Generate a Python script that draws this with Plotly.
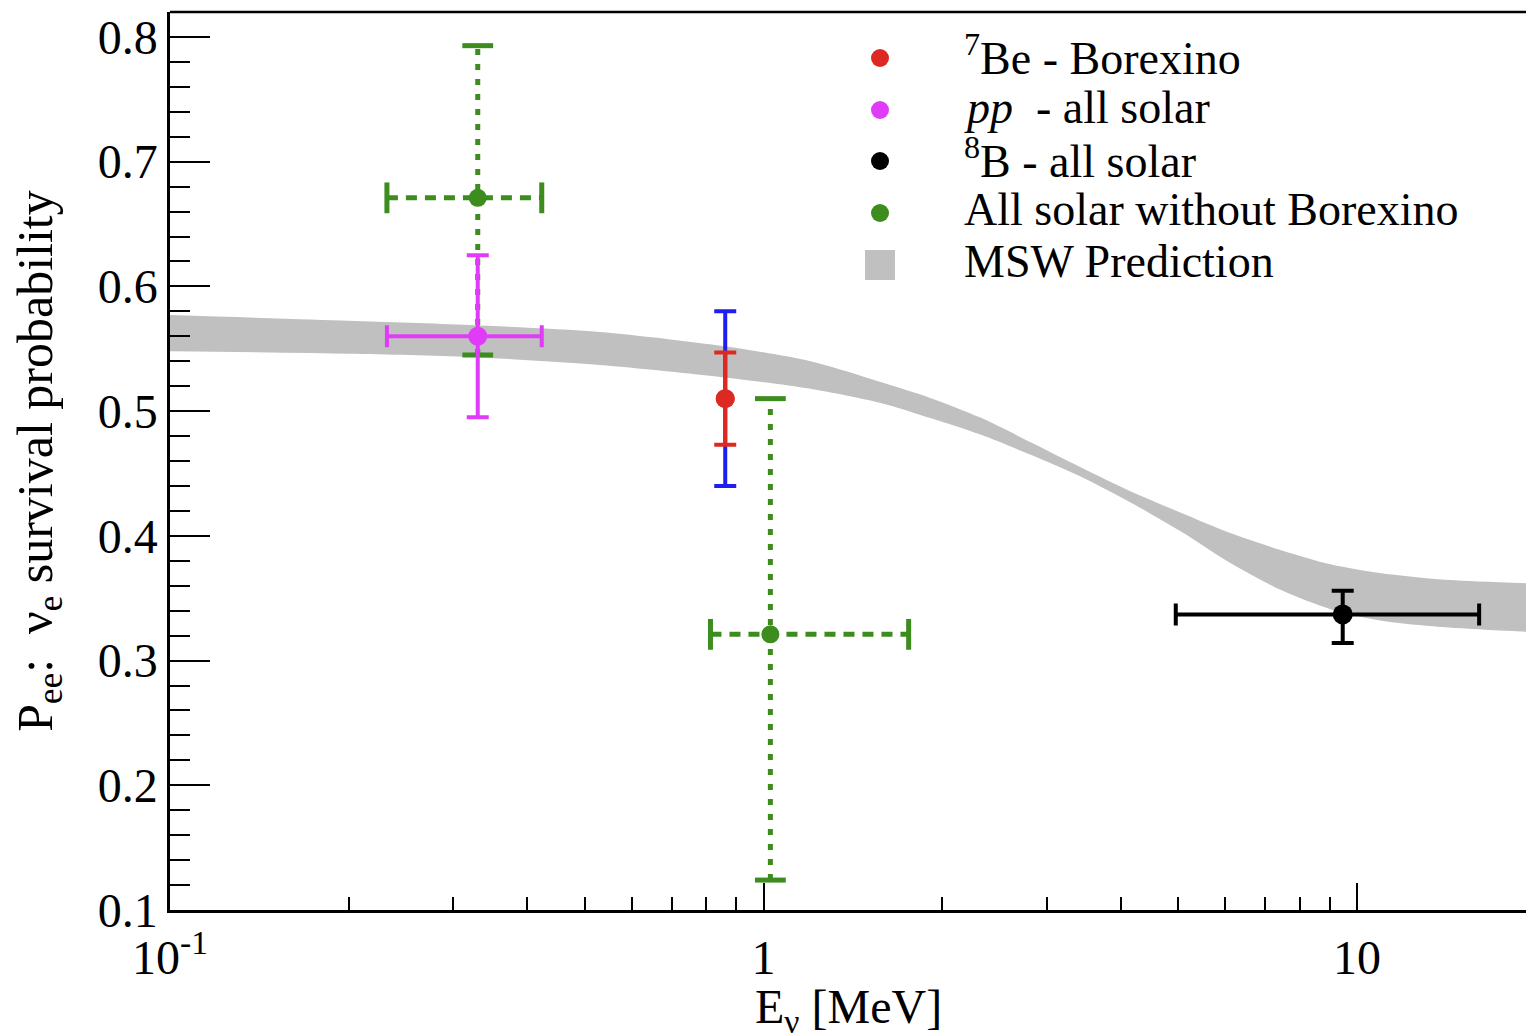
import plotly.graph_objects as go

# ---------------- data ----------------
# MSW prediction band: energy [MeV], lower and upper survival probability
band_E = [0.1, 0.2, 0.32, 0.53, 0.86, 1.2, 1.575, 1.91, 2.32, 2.82, 3.43, 4.16,
          5.05, 6.13, 7.45, 9.05, 11.0, 14.3, 19.4]
band_lo = [0.548, 0.546, 0.5434, 0.537, 0.527, 0.518, 0.5066, 0.4945, 0.4812, 0.465,
           0.4473, 0.4265, 0.4035, 0.378, 0.3565, 0.341, 0.332, 0.3265, 0.323]
band_hi = [0.577, 0.5725, 0.5691, 0.5635, 0.552, 0.540, 0.5234, 0.5106, 0.4948, 0.475,
           0.4547, 0.4355, 0.4185, 0.402, 0.3885, 0.377, 0.370, 0.3645, 0.362]

# pp - all solar
pp_E = [0.33]
pp_E_minus = [0.098]
pp_E_plus = [0.093]
pp_P = [0.56]
pp_P_plus = [0.065]
pp_P_minus = [0.065]

# 7Be - Borexino
be7_E = [0.862]
be7_P = [0.51]
be7_stat = [0.037]
be7_total = [0.07]

# 8B - all solar
b8_E = [9.46]
b8_E_minus = [4.51]
b8_E_plus = [6.6]
b8_P = [0.337]
b8_P_plus = [0.019]
b8_P_minus = [0.023]

# All solar without Borexino
g_E = [0.33, 1.027]
g_E_minus = [0.098, 0.213]
g_E_plus = [0.093, 0.729]
g_P = [0.671, 0.321]
g_P_plus = [0.122, 0.189]
g_P_minus = [0.126, 0.197]

# legend labels
legend_labels = ["<sup>7</sup>Be - Borexino", "<i>pp</i>  - all solar",
                 "<sup>8</sup>B - all solar", "All solar without Borexino",
                 "MSW Prediction"]

# axis titles and tick labels
x_title = "E<sub>ν</sub> [MeV]"
y_title = "P<sub>ee</sub>:  ν<sub>e</sub> survival probability"
x_tickvals = [0.1, 1, 10]
x_ticktext = ["10<sup>-1</sup>", "1", "10"]
y_tickvals = [0.1, 0.2, 0.3, 0.4, 0.5, 0.6, 0.7, 0.8]

# ---------------- styles ----------------
GREEN = "#3c8c1e"
MAGENTA = "#e03cf8"
RED = "#dc2a22"
BLUE = "#1e1ef0"
GREY = "#c0c0c0"
FONT = "Liberation Serif"

fig = go.Figure()

# MSW band
fig.add_trace(go.Scatter(x=band_E, y=band_lo, mode="lines",
                         line=dict(width=0, color=GREY, shape="spline", smoothing=0.8),
                         showlegend=False, hoverinfo="skip"))
fig.add_trace(go.Scatter(x=band_E, y=band_hi, mode="lines", fill="tonexty",
                         fillcolor=GREY,
                         line=dict(width=0, color=GREY, shape="spline", smoothing=0.8),
                         showlegend=False, hoverinfo="skip"))

# green dotted / dashed error bars built from the data
gv_x, gv_y, gh_x, gh_y = [], [], [], []
capv_x, capv_y, caph_x, caph_y = [], [], [], []
for e, em, ep, p, pp_, pm in zip(g_E, g_E_minus, g_E_plus, g_P, g_P_plus, g_P_minus):
    gv_x += [e, e, None]
    gv_y += [p - pm, p + pp_, None]
    gh_x += [e - em, e + ep, None]
    gh_y += [p, p, None]
    capv_x += [e, e]
    capv_y += [p - pm, p + pp_]
    caph_x += [e - em, e + ep]
    caph_y += [p, p]

fig.add_trace(go.Scatter(x=gv_x, y=gv_y, mode="lines",
                         line=dict(color=GREEN, width=5, dash="6px,9px"),
                         showlegend=False, hoverinfo="skip"))
fig.add_trace(go.Scatter(x=gh_x, y=gh_y, mode="lines",
                         line=dict(color=GREEN, width=5, dash="11px,8px"),
                         showlegend=False, hoverinfo="skip"))
fig.add_trace(go.Scatter(x=capv_x, y=capv_y, mode="markers",
                         marker=dict(symbol="line-ew", size=22,
                                     line=dict(color=GREEN, width=5)),
                         showlegend=False, hoverinfo="skip"))
fig.add_trace(go.Scatter(x=caph_x, y=caph_y, mode="markers",
                         marker=dict(symbol="line-ns", size=22,
                                     line=dict(color=GREEN, width=5)),
                         showlegend=False, hoverinfo="skip"))
fig.add_trace(go.Scatter(x=g_E, y=g_P, mode="markers", name=legend_labels[3],
                         marker=dict(color=GREEN, size=18), showlegend=False))

# pp - all solar
fig.add_trace(go.Scatter(
    x=pp_E, y=pp_P, mode="markers", name=legend_labels[1],
    marker=dict(color=MAGENTA, size=19), showlegend=False,
    error_x=dict(type="data", symmetric=False, array=pp_E_plus, arrayminus=pp_E_minus,
                 color=MAGENTA, thickness=4, width=11),
    error_y=dict(type="data", symmetric=False, array=pp_P_plus, arrayminus=pp_P_minus,
                 color=MAGENTA, thickness=4, width=11)))

# 7Be total (blue) and stat (red)
fig.add_trace(go.Scatter(
    x=be7_E, y=be7_P, mode="markers", marker=dict(color=RED, size=19),
    showlegend=False, hoverinfo="skip",
    error_y=dict(type="data", array=be7_total, color=BLUE, thickness=4, width=11)))
fig.add_trace(go.Scatter(
    x=be7_E, y=be7_P, mode="markers", name=legend_labels[0],
    marker=dict(color=RED, size=19), showlegend=False,
    error_y=dict(type="data", array=be7_stat, color=RED, thickness=4, width=11)))

# 8B
fig.add_trace(go.Scatter(
    x=b8_E, y=b8_P, mode="markers", name=legend_labels[2],
    marker=dict(color="black", size=20), showlegend=False,
    error_x=dict(type="data", symmetric=False, array=b8_E_plus, arrayminus=b8_E_minus,
                 color="black", thickness=4, width=11),
    error_y=dict(type="data", symmetric=False, array=b8_P_plus, arrayminus=b8_P_minus,
                 color="black", thickness=4, width=11)))

# ---------------- legend (drawn as annotations + symbols) ----------------
L, T, PW, PH = 170, 12, 1356, 898
def px_x(px):
    return (px - L) / PW
def px_y(py):
    return 1 - (py - T) / PH

leg_rows = [58, 110, 161, 213, 265]
leg_colors = [RED, MAGENTA, "black", GREEN, GREY]
shapes = []
annotations = []
for i, (row, col, lab) in enumerate(zip(leg_rows, leg_colors, legend_labels)):
    if i < 4:
        r = 9
        shapes.append(dict(type="circle", xref="paper", yref="paper",
                           xsizemode="pixel", ysizemode="pixel",
                           xanchor=px_x(880), yanchor=px_y(row),
                           x0=-r, x1=r, y0=-r, y1=r,
                           fillcolor=col, line=dict(width=0)))
    else:
        r = 15
        shapes.append(dict(type="rect", xref="paper", yref="paper",
                           xsizemode="pixel", ysizemode="pixel",
                           xanchor=px_x(880), yanchor=px_y(row),
                           x0=-r, x1=r, y0=-r, y1=r,
                           fillcolor=col, line=dict(width=0)))
    annotations.append(dict(xref="paper", yref="paper", x=px_x(962), y=px_y(row - 3),
                            xanchor="left", yanchor="middle", text=lab, showarrow=False,
                            font=dict(family=FONT, size=46, color="black")))

# x-axis title placed below the tick labels
annotations.append(dict(xref="paper", yref="paper", x=0.5, y=px_y(979),
                        xanchor="center", yanchor="top", text=x_title, showarrow=False,
                        borderpad=0, font=dict(family=FONT, size=48, color="black")))

# top frame line
shapes.append(dict(type="line", xref="paper", yref="paper", x0=0, x1=1, y0=1, y1=1,
                   line=dict(color="black", width=2.5)))

minor_x = [m * 10 ** k for k in (-1, 0, 1) for m in range(2, 10)]

fig.update_layout(
    width=1526, height=1035,
    margin=dict(l=170, r=0, t=12, b=125),
    plot_bgcolor="white", paper_bgcolor="white",
    font=dict(family=FONT, size=48, color="black"),
    showlegend=False,
    shapes=shapes, annotations=annotations,
    xaxis=dict(type="log", range=[-1, 1.2847], showline=True, linecolor="black",
               linewidth=2.5, ticks="inside", ticklen=27, tickwidth=2, tickcolor="black",
               tickmode="array", tickvals=x_tickvals, ticktext=x_ticktext,
               ticklabelstandoff=4, automargin=False,
               minor=dict(tickmode="array", tickvals=minor_x, ticks="inside",
                          ticklen=13, tickwidth=2, tickcolor="black"),
               showgrid=False, zeroline=False,
               tickfont=dict(family=FONT, size=48)),
    yaxis=dict(range=[0.1, 0.82], showline=True, linecolor="black", linewidth=2.5,
               ticks="inside", ticklen=40, tickwidth=2, tickcolor="black",
               tickmode="array", tickvals=y_tickvals, tickformat=".1f",
               ticklabelstandoff=0, automargin=False,
               minor=dict(dtick=0.02, tick0=0.1, ticks="inside", ticklen=20,
                          tickwidth=2, tickcolor="black"),
               showgrid=False, zeroline=False,
               tickfont=dict(family=FONT, size=48),
               title=dict(text=y_title, standoff=30, font=dict(family=FONT, size=50))),
)

fig.write_html("out.html")
